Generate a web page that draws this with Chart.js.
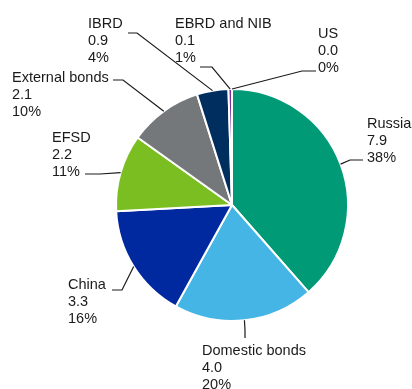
<!DOCTYPE html>
<html>
<head>
<meta charset="utf-8">
<script src="https://cdn.jsdelivr.net/npm/chart.js@4.4.0/dist/chart.umd.min.js"></script>
<style>
  html, body { margin: 0; padding: 0; background: #fff; }
  #wrap { width: 412px; height: 389px; position: relative; }
</style>
</head>
<body>
<div id="wrap"><canvas id="pie-chart"></canvas></div>
<script>
// Chart data
const categories = ['Russia', 'Domestic bonds', 'China', 'EFSD', 'External bonds', 'IBRD', 'EBRD and NIB', 'US'];
const values = [7.9, 4.0, 3.3, 2.2, 2.1, 0.9, 0.1, 0.0];
const shares = [38, 20, 16, 11, 10, 4, 1, 0];
const colors = ['#009a77', '#45b5e5', '#0029a0', '#7bbe22', '#75787b', '#002f5f', '#7a2f9e', '#c8102e'];

// Label placement: text position (baseline of first line), elbow and end of leader line
const labelLayout = [
  { x: 367, y: 128, elbow: [350, 160], end: [363, 160] },
  { x: 202, y: 355, elbow: [245, 330], end: [245, 338] },
  { x: 68, y: 289, elbow: [122, 290], end: [112, 290] },
  { x: 52, y: 142, elbow: [100, 174], end: [85, 174] },
  { x: 12, y: 82, elbow: [123, 80], end: [113, 80] },
  { x: 88, y: 28, elbow: [137, 33], end: [128, 33] },
  { x: 175, y: 28, elbow: [212, 67], end: [200, 67] },
  { x: 318, y: 38, elbow: [302, 71], end: [316, 71] }
];

// Draws the data labels with leader lines
const calloutPlugin = {
  id: 'callouts',
  afterDraw(chart) {
    const ctx = chart.ctx;
    const meta = chart.getDatasetMeta(0);
    ctx.save();
    ctx.font = '14.5px "Liberation Sans", Arial, sans-serif';
    ctx.fillStyle = '#1a1a1a';
    ctx.textBaseline = 'alphabetic';
    meta.data.forEach((arc, i) => {
      const layout = labelLayout[i];
      const mid = (arc.startAngle + arc.endAngle) / 2;
      const ax = arc.x + Math.cos(mid) * arc.outerRadius;
      const ay = arc.y + Math.sin(mid) * arc.outerRadius;

      ctx.strokeStyle = '#1a1a1a';
      ctx.lineWidth = 1.2;
      ctx.beginPath();
      ctx.moveTo(ax, ay);
      ctx.lineTo(layout.elbow[0], layout.elbow[1]);
      ctx.lineTo(layout.end[0], layout.end[1]);
      ctx.stroke();

      const lines = [categories[i], values[i].toFixed(1), shares[i] + '%'];
      lines.forEach((t, k) => {
        ctx.fillText(t, layout.x, layout.y + k * 17);
      });
    });
    ctx.restore();
  }
};

const ctx = document.getElementById('pie-chart').getContext('2d');
const pieChart = new Chart(ctx, {
  type: 'pie',
  data: {
    labels: categories,
    datasets: [{
      data: values,
      backgroundColor: colors,
      borderColor: '#ffffff',
      borderWidth: 2,
      hoverOffset: 0
    }]
  },
  options: {
    responsive: true,
    maintainAspectRatio: false,
    animation: false,
    layout: {
      padding: { left: 115, right: 63, top: 88, bottom: 67 }
    },
    plugins: {
      legend: { display: false },
      tooltip: { enabled: false }
    }
  },
  plugins: [calloutPlugin]
});
</script>
</body>
</html>
